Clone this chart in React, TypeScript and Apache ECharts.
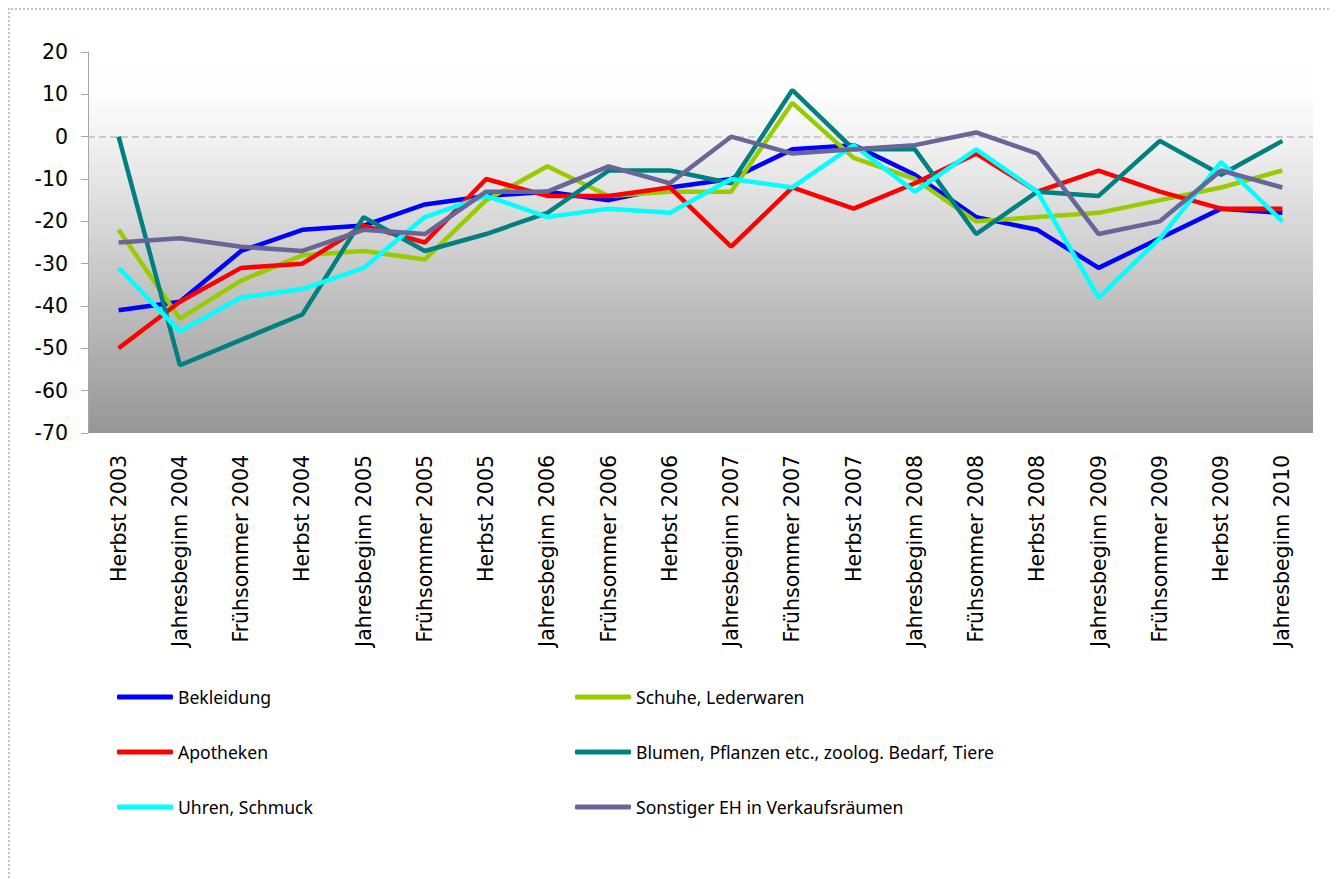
import React, { useEffect, useRef } from "react";
import * as echarts from "echarts";

const categories = [
  "Herbst 2003", "Jahresbeginn 2004", "Frühsommer 2004", "Herbst 2004",
  "Jahresbeginn 2005", "Frühsommer 2005", "Herbst 2005", "Jahresbeginn 2006",
  "Frühsommer 2006", "Herbst 2006", "Jahresbeginn 2007", "Frühsommer 2007",
  "Herbst 2007", "Jahresbeginn 2008", "Frühsommer 2008", "Herbst 2008",
  "Jahresbeginn 2009", "Frühsommer 2009", "Herbst 2009", "Jahresbeginn 2010",
];

const bekleidung = [-41, -39, -27, -22, -21, -16, -14, -13, -15, -12, -10, -3, -2, -9, -19, -22, -31, -24, -17, -18];
const schuhe = [-22, -43, -34, -28, -27, -29, -15, -7, -14, -13, -13, 8, -5, -10, -20, -19, -18, -15, -12, -8];
const apotheken = [-50, -39, -31, -30, -21, -25, -10, -14, -14, -12, -26, -12, -17, -11, -4, -13, -8, -13, -17, -17];
const blumen = [0, -54, -48, -42, -19, -27, -23, -18, -8, -8, -11, 11, -3, -3, -23, -13, -14, -1, -9, -1];
const uhren = [-31, -46, -38, -36, -31, -19, -14, -19, -17, -18, -10, -12, -2, -13, -3, -13, -38, -24, -6, -20];
const sonstiger = [-25, -24, -26, -27, -22, -23, -13, -13, -7, -11, 0, -4, -3, -2, 1, -4, -23, -20, -8, -12];

const seriesNames = [
  "Bekleidung",
  "Schuhe, Lederwaren",
  "Apotheken",
  "Blumen, Pflanzen etc., zoolog. Bedarf, Tiere",
  "Uhren, Schmuck",
  "Sonstiger EH in Verkaufsräumen",
];
const seriesData = [bekleidung, schuhe, apotheken, blumen, uhren, sonstiger];
const seriesColors = ["#0000FF", "#99CC00", "#FF0000", "#008080", "#00FFFF", "#666699"];

const yMin = -70;
const yMax = 20;
const yStep = 10;

export default function App() {
  const ref = useRef<HTMLDivElement>(null);

  useEffect(() => {
    if (!ref.current) return;
    const chart = echarts.init(ref.current, undefined, { renderer: "svg" });

    const legendPos = [
      { left: 107, top: 677 },
      { left: 565, top: 677 },
      { left: 107, top: 732 },
      { left: 565, top: 732 },
      { left: 107, top: 787 },
      { left: 565, top: 787 },
    ];

    chart.setOption({
      animation: false,
      backgroundColor: "#ffffff",
      grid: {
        left: 78,
        top: 42,
        width: 1225,
        height: 381,
        show: true,
        borderWidth: 0,
        backgroundColor: {
          type: "linear",
          x: 0, y: 0, x2: 0, y2: 1,
          colorStops: [
            { offset: 0, color: "#ffffff" },
            { offset: 0.1, color: "#fdfdfd" },
            { offset: 0.22, color: "#f3f3f3" },
            { offset: 1, color: "#969696" },
          ],
        },
      },
      legend: seriesNames.map((n, i) => ({
        data: [n],
        left: legendPos[i].left,
        top: legendPos[i].top,
        padding: 0,
        icon: "roundRect",
        itemWidth: 56,
        itemHeight: 5,
        selectedMode: false,
        textStyle: {
          fontFamily: "Noto Sans",
          fontSize: 17.6,
          lineHeight: 20,
          color: "#000000",
        },
      })),
      xAxis: {
        type: "category",
        data: categories,
        boundaryGap: true,
        position: "bottom",
        axisLine: { show: false, onZero: false },
        axisTick: { show: false },
        splitLine: { show: false },
        axisLabel: {
          rotate: 90,
          interval: 0,
          margin: 22,
          fontFamily: "DejaVu Sans",
          fontSize: 20.5,
          color: "#000000",
        },
      },
      yAxis: {
        type: "value",
        min: yMin,
        max: yMax,
        interval: yStep,
        axisLine: { show: true, lineStyle: { color: "#a6a6a6", width: 1 } },
        axisTick: { show: true, length: 7, lineStyle: { color: "#a6a6a6" } },
        splitLine: { show: false },
        axisLabel: {
          margin: 20,
          fontFamily: "DejaVu Sans",
          fontSize: 20.5,
          color: "#000000",
        },
      },
      series: seriesNames.map((n, i) => ({
        name: n,
        type: "line",
        data: seriesData[i],
        symbol: "none",
        lineStyle: { color: seriesColors[i], width: 4.5 },
        itemStyle: { color: seriesColors[i] },
        z: 2 + i,
        markLine:
          i === 0
            ? {
                silent: true,
                symbol: "none",
                label: { show: false },
                lineStyle: { color: "#bfbfbf", width: 1.5, type: [7, 4] },
                data: [{ yAxis: 0 }],
                z: 1,
              }
            : undefined,
      })),
    });

    return () => chart.dispose();
  }, []);

  return (
    <div
      style={{
        width: 1320,
        height: 880,
        borderTop: "2px dotted #c4c4c4",
        borderLeft: "2px dotted #c4c4c4",
        borderRight: "2px dotted #c4c4c4",
      }}
    >
      <div ref={ref} style={{ width: 1320, height: 870 }} />
    </div>
  );
}
